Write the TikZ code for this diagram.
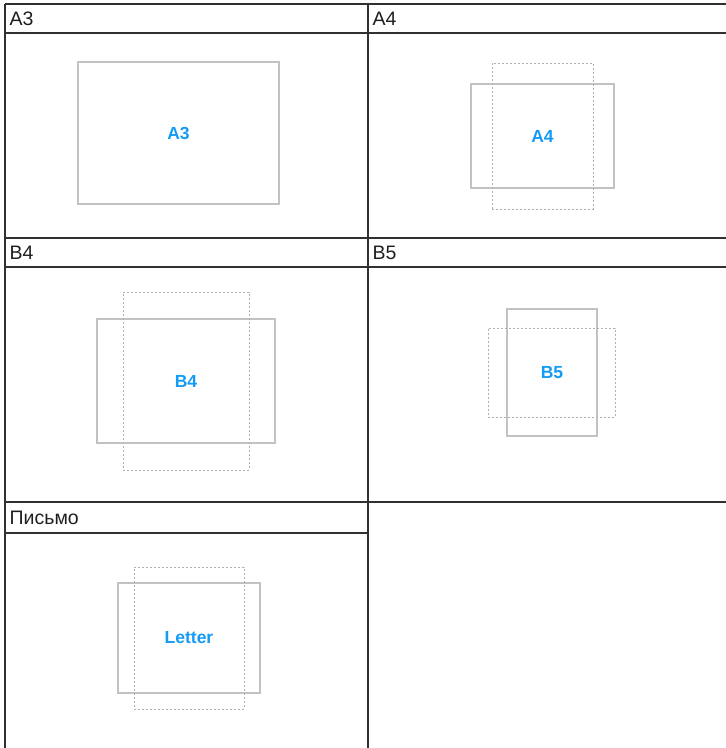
\documentclass[tikz,border=0pt]{standalone}
\usepackage{fontspec}
\setmainfont{Liberation Sans}
\definecolor{GridDark}{HTML}{303030}
\definecolor{SheetGray}{HTML}{C2C2C2}
\definecolor{FrameGray}{HTML}{B0B0B0}
\definecolor{SizeBlue}{HTML}{139BF5}
\definecolor{HeadText}{HTML}{1E1E1E}
\usetikzlibrary{positioning}
\tikzset{
  grid/.style={draw=GridDark, line width=2pt},
  head/.style={anchor=west, inner sep=0pt, font=\fontsize{19.5}{22}\selectfont, text=HeadText},
  sheet/.style={draw=SheetGray, line width=1.1pt, inner sep=0pt, font=\fontsize{17.5}{20}\selectfont\bfseries, text=SizeBlue},
  frame/.style={draw=FrameGray, line width=1pt, dash pattern=on 2pt off 2pt, inner sep=0pt}
}
\begin{document}
\begin{tikzpicture}[x=1pt, y=-1pt]
    \useasboundingbox (0,0) rectangle (726,748);

    % table lines
    \draw[grid] (4.5,3.5) -- (726,3.5);
    \draw[grid] (4.5,33) -- (726,33);
    \draw[grid] (4.5,237.5) -- (726,237.5);
    \draw[grid] (4.5,267) -- (726,267);
    \draw[grid] (4.5,501.5) -- (726,501.5);
    \draw[grid] (4.5,533) -- (367.5,533);
    \draw[grid] (4.5,3.5) -- (4.5,748);
    \draw[grid] (367.5,3.5) -- (367.5,748);

    % headers
    \node[head] (hA3) at (9.5,18.5) {A3};
    \node[head] (hA4) at (372.5,18.5) {A4};
    \node[head] (hB4) at (9.5,252.5) {B4};
    \node[head] (hB5) at (372.5,252.5) {B5};
    \node[head] (hLetter) at (9.5,517.5) {Письмо};

    % A3
    \node[sheet, minimum width=201pt, minimum height=142pt] (sA3) at (178.5,133) {A3};

    % A4
    \node[sheet, minimum width=143pt, minimum height=104pt] (sA4) at (542.5,136) {A4};
    \node[frame, minimum width=101pt, minimum height=146pt] (fA4) at (542.5,136) {};

    % B4
    \node[sheet, minimum width=178pt, minimum height=124pt] (sB4) at (186,381) {B4};
    \node[frame, minimum width=126pt, minimum height=178pt] (fB4) at (186,381) {};

    % B5
    \node[sheet, minimum width=90pt, minimum height=127pt] (sB5) at (552,372.5) {B5};
    \node[frame, minimum width=127pt, minimum height=89pt] (fB5) at (551.5,372.5) {};

    % Letter
    \node[sheet, minimum width=142pt, minimum height=110pt] (sLetter) at (189,638) {Letter};
    \node[frame, minimum width=110pt, minimum height=142pt] (fLetter) at (189,638) {};
\end{tikzpicture}
\end{document}
